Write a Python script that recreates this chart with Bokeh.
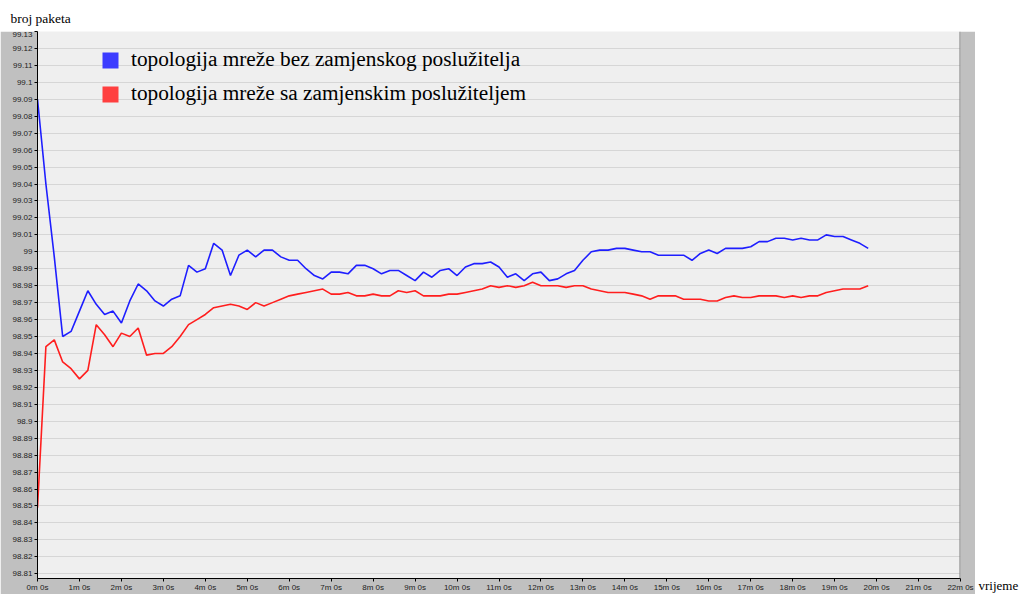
from bokeh.plotting import figure
from bokeh.layouts import column, row
from bokeh.models import (Range1d, FixedTicker, CustomJSTickFormatter, Label,
                          Span, Legend, LegendItem)
from bokeh.embed import file_html
from bokeh.resources import INLINE

# sample times (seconds), one sample every 12 s
time_s = list(range(0, 1200, 12))

# broj paketa - topologija mreže bez zamjenskog poslužitelja
bez_zamjenskog = [
    99.090, 99.040, 98.997, 98.950, 98.953, 98.965, 98.977, 98.969, 98.963, 98.965,
    98.958, 98.971, 98.981, 98.977, 98.971, 98.968, 98.972, 98.974, 98.992, 98.988,
    98.990, 99.005, 99.001, 98.986, 98.998, 99.001, 98.997, 99.001, 99.001, 98.997,
    98.995, 98.995, 98.990, 98.986, 98.984, 98.988, 98.988, 98.987, 98.992, 98.992,
    98.990, 98.987, 98.989, 98.989, 98.986, 98.983, 98.988, 98.985, 98.989, 98.990,
    98.986, 98.991, 98.993, 98.993, 98.994, 98.991, 98.985, 98.987, 98.983, 98.987,
    98.988, 98.983, 98.984, 98.987, 98.989, 98.995, 99.000, 99.001, 99.001, 99.002,
    99.002, 99.001, 99.000, 99.000, 98.998, 98.998, 98.998, 98.998, 98.995, 98.999,
    99.001, 98.999, 99.002, 99.002, 99.002, 99.003, 99.006, 99.006, 99.008, 99.008,
    99.007, 99.008, 99.007, 99.007, 99.010, 99.009, 99.009, 99.007, 99.005, 99.002,
]

# broj paketa - topologija mreže sa zamjenskim poslužiteljem
sa_zamjenskim = [
    98.849, 98.944, 98.948, 98.935, 98.931, 98.925, 98.930, 98.957, 98.951, 98.944,
    98.952, 98.950, 98.955, 98.939, 98.940, 98.940, 98.944, 98.950, 98.957, 98.960,
    98.963, 98.967, 98.968, 98.969, 98.968, 98.966, 98.970, 98.968, 98.970, 98.972,
    98.974, 98.975, 98.976, 98.977, 98.978, 98.975, 98.975, 98.976, 98.974, 98.974,
    98.975, 98.974, 98.974, 98.977, 98.976, 98.977, 98.974, 98.974, 98.974, 98.975,
    98.975, 98.976, 98.977, 98.978, 98.980, 98.979, 98.980, 98.979, 98.980, 98.982,
    98.980, 98.980, 98.980, 98.979, 98.980, 98.980, 98.978, 98.977, 98.976, 98.976,
    98.976, 98.975, 98.974, 98.972, 98.974, 98.974, 98.974, 98.972, 98.972, 98.972,
    98.971, 98.971, 98.973, 98.974, 98.973, 98.973, 98.974, 98.974, 98.974, 98.973,
    98.974, 98.973, 98.974, 98.974, 98.976, 98.977, 98.978, 98.978, 98.978, 98.980,
]

series_labels = ["topologija mreže bez zamjenskog poslužitelja",
                 "topologija mreže sa zamjenskim poslužiteljem"]
series_colors = ["#1e1eff", "#ff1e1e"]
legend_colors = ["#3b3bff", "#ff3f3f"]

x_ticks = list(range(0, 23))          # minutes
y_ticks = [98.81, 98.82, 98.83, 98.84, 98.85, 98.86, 98.87, 98.88, 98.89, 98.90,
           98.91, 98.92, 98.93, 98.94, 98.95, 98.96, 98.97, 98.98, 98.99, 99.00,
           99.01, 99.02, 99.03, 99.04, 99.05, 99.06, 99.07, 99.08, 99.09, 99.10,
           99.11, 99.12, 99.13]
y_title = "broj paketa"
x_title = "vrijeme"

t_min = [s / 60.0 for s in time_s]

# ---- top strip with the y-axis title
top = figure(width=1024, height=31, output_backend="svg", toolbar_location=None,
             x_range=Range1d(0, 1), y_range=Range1d(0, 1),
             x_axis_type=None, y_axis_type=None, min_border=0)
top.outline_line_color = None
top.background_fill_color = "white"
top.border_fill_color = "white"
top.add_layout(Label(x=10, y=13, x_units="screen", y_units="screen", text=y_title,
                     text_font="Liberation Serif", text_font_size="13.5px",
                     text_color="black", text_baseline="alphabetic"))

# ---- main chart
p = figure(width=975, height=563, output_backend="svg", toolbar_location=None,
           x_range=Range1d(0, 22), y_range=Range1d(98.8072, 99.13),
           min_border_left=37, min_border_right=15, min_border_top=0,
           min_border_bottom=16)
p.background_fill_color = "#efefef"
p.border_fill_color = "#c0c0c0"
p.outline_line_color = None

p.xgrid.visible = False
p.ygrid.ticker = FixedTicker(ticks=y_ticks)
p.ygrid.grid_line_color = "#d6d6d6"
p.ygrid.grid_line_width = 1

p.xaxis.ticker = FixedTicker(ticks=x_ticks)
p.xaxis.formatter = CustomJSTickFormatter(code="return Math.round(tick) + 'm 0s';")
p.yaxis.ticker = FixedTicker(ticks=y_ticks)
p.yaxis.formatter = CustomJSTickFormatter(code="return String(Math.round(tick*100)/100);")
for ax in (p.xaxis[0], p.yaxis[0]):
    ax.axis_line_color = "black"
    ax.axis_line_width = 1
    ax.major_tick_line_color = "black"
    ax.major_tick_out = 3
    ax.major_tick_in = 0
    ax.minor_tick_line_color = None
    ax.major_label_text_font = "Liberation Sans"
    ax.major_label_text_font_size = "8px"
    ax.major_label_text_color = "#222222"
    ax.major_label_standoff = 2
p.xaxis.major_label_standoff = 1

# right border of plot area
p.add_layout(Span(location=22, dimension="height", line_color="#7a7a7a", line_width=2))

r_bez = p.line(t_min, bez_zamjenskog, line_color=series_colors[0], line_width=1.6)
r_sa = p.line(t_min, sa_zamjenskim, line_color=series_colors[1], line_width=1.6)

# legend swatches: zero-size quads anchored on each series' first sample
q1 = p.quad(left=t_min[:1], right=t_min[:1], top=bez_zamjenskog[:1],
            bottom=bez_zamjenskog[:1], fill_color=legend_colors[0], line_color=None)
q2 = p.quad(left=t_min[:1], right=t_min[:1], top=sa_zamjenskim[:1],
            bottom=sa_zamjenskim[:1], fill_color=legend_colors[1], line_color=None)
legend = Legend(items=[LegendItem(label=series_labels[0], renderers=[q1]),
                       LegendItem(label=series_labels[1], renderers=[q2])],
                location=(63, 472), glyph_width=20, glyph_height=20,
                label_standoff=11, spacing=9, padding=0, margin=0,
                background_fill_alpha=0, border_line_color=None,
                label_text_font="Liberation Serif", label_text_font_size="21.3px",
                label_text_color="black")
p.add_layout(legend)

# ---- right strip with the x-axis title (nested so its frame is not aligned to p)
side = figure(width=49, height=563, output_backend="svg", toolbar_location=None,
              x_range=Range1d(0, 1), y_range=Range1d(0, 1),
              x_axis_type=None, y_axis_type=None, min_border=0)
side.outline_line_color = None
side.background_fill_color = "white"
side.border_fill_color = "white"
side.add_layout(Label(x=3, y=9, x_units="screen", y_units="screen", text=x_title,
                      text_font="Liberation Serif", text_font_size="13px",
                      text_color="black", text_baseline="alphabetic"))

layout = column(top, row(p, column(side)))

open("out.html", "w").write(file_html(layout, INLINE))
